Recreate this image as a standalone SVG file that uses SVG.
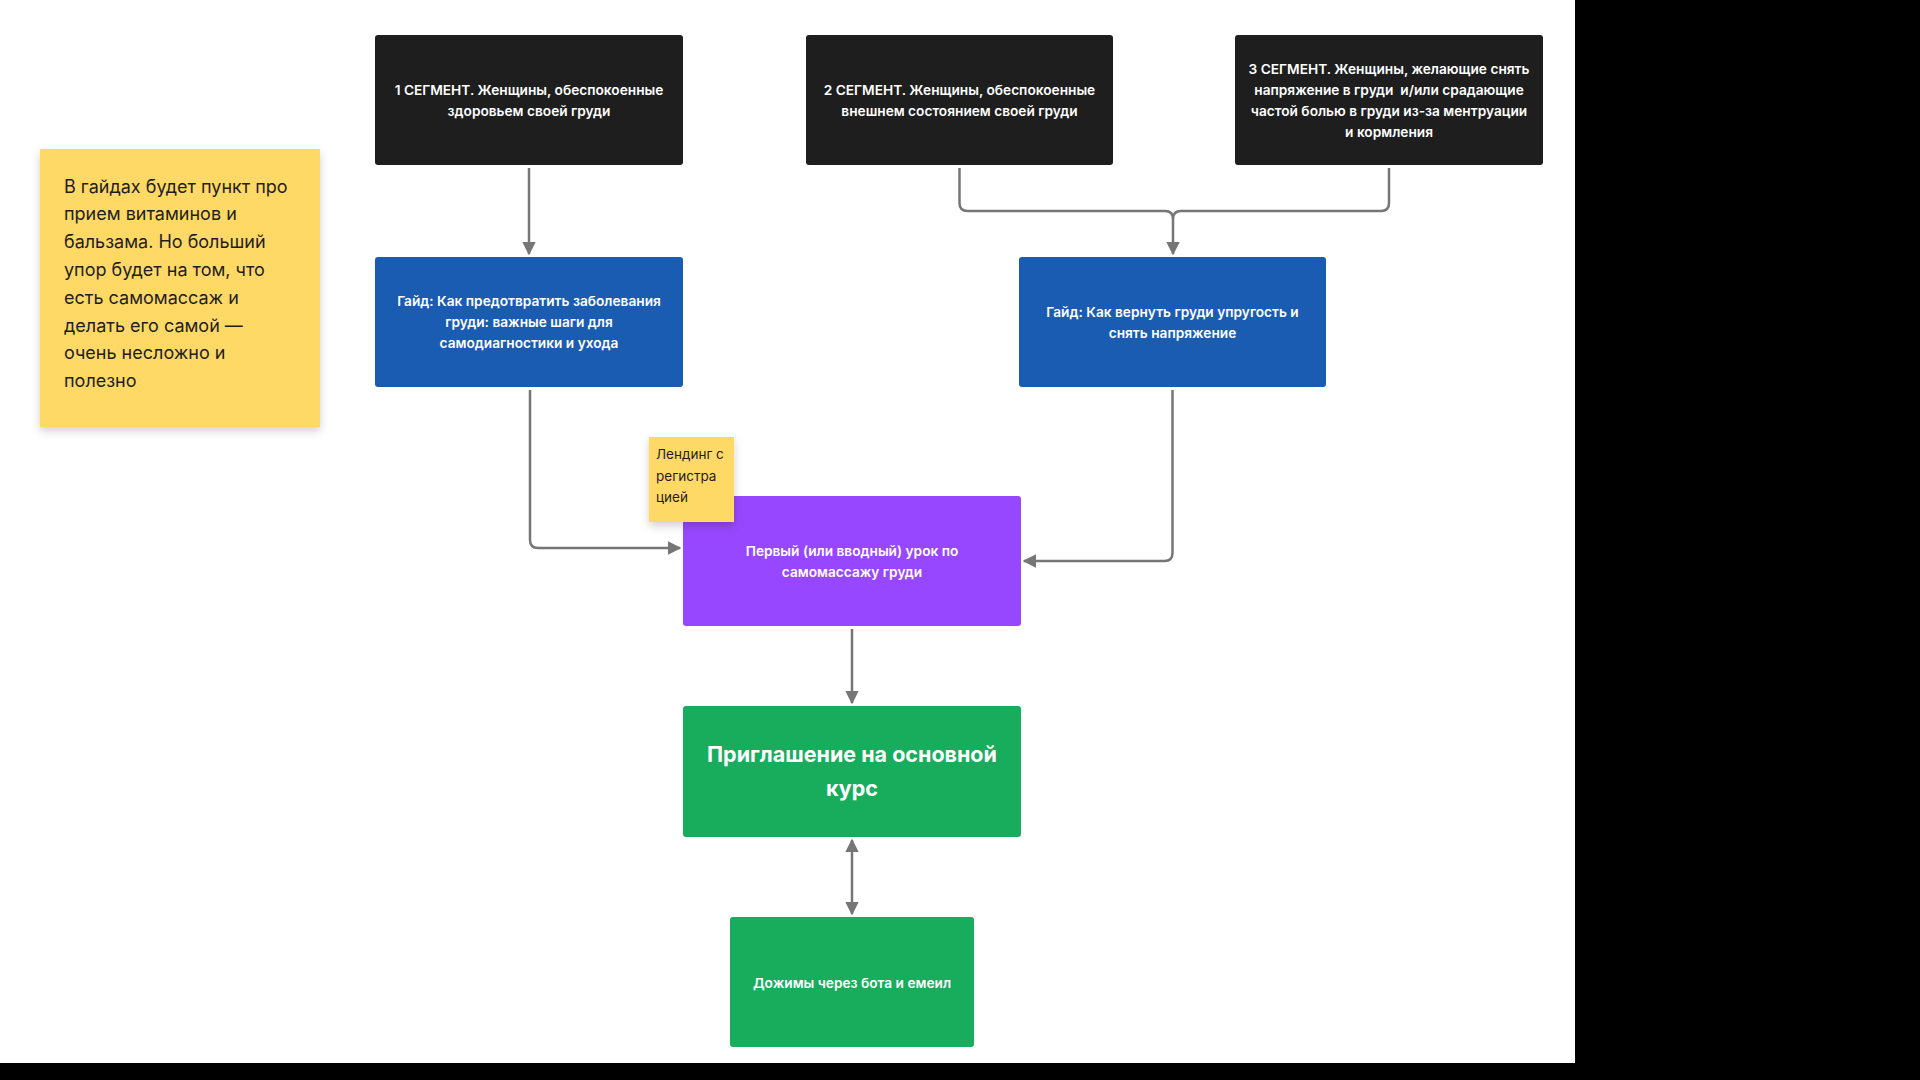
<svg xmlns="http://www.w3.org/2000/svg" width="1920" height="1080" viewBox="0 0 1920 1080">
<style>
.t{font-family:Inter,"Noto Sans","Liberation Sans",sans-serif;text-anchor:middle}
.w{fill:#ffffff;font-weight:600;font-size:13.7px}
.big{fill:#ffffff;font-weight:700;font-size:21.5px}
.note{font-family:Inter,"Noto Sans","Liberation Sans",sans-serif;fill:#1e1e1e;font-size:18px}
.small{font-family:Inter,"Noto Sans","Liberation Sans",sans-serif;fill:#1e1e1e;font-size:13.5px}
.dark{fill:#1e1e1e}
.blue{fill:#1a5cb1}
.purple{fill:#9747ff}
.green{fill:#17ad5c}
.yellow{fill:#ffd966}
.c{fill:none;stroke:#767676;stroke-width:2.5}
</style>
<defs>
<marker id="ah" viewBox="0 0 10 10" refX="9" refY="5" markerWidth="5.5" markerHeight="5.5" orient="auto-start-reverse">
<path d="M0,0 L10,5 L0,10 z" fill="#767676"/>
</marker>
<filter id="sh" x="-20%" y="-20%" width="140%" height="140%">
<feDropShadow dx="0" dy="4" stdDeviation="4" flood-color="#000" flood-opacity="0.18"/>
</filter>
</defs>
<rect x="0" y="0" width="1920" height="1080" fill="#ffffff"/>
<rect x="1575" y="0" width="345" height="1080" fill="#000000"/>
<rect x="0" y="1063" width="1920" height="17" fill="#000000"/>

<g id="connectors">
<path class="c" d="M529,168 V254" marker-end="url(#ah)"/>
<path class="c" d="M959.5,168 V203 Q959.5,211 967.5,211 H1165 Q1173,211 1173,219 V254" marker-end="url(#ah)"/>
<path class="c" d="M1389,168 V203 Q1389,211 1381,211 H1181 Q1173,211 1173,219"/>
<path class="c" d="M530,390 V540 Q530,548 538,548 H680" marker-end="url(#ah)"/>
<path class="c" d="M1172.5,390 V553 Q1172.5,561 1164.5,561 H1024" marker-end="url(#ah)"/>
<path class="c" d="M852,629 V703" marker-end="url(#ah)"/>
<path class="c" d="M852,840 V914" marker-start="url(#ah)" marker-end="url(#ah)"/>
</g>

<g id="note-main">
<rect class="yellow" x="40" y="149" width="280" height="278" filter="url(#sh)"/>
<text class="note" x="64" y="192.5">В гайдах будет пункт про</text>
<text class="note" x="64" y="220.3">прием витаминов и</text>
<text class="note" x="64" y="248.1">бальзама. Но больший</text>
<text class="note" x="64" y="275.9">упор будет на том, что</text>
<text class="note" x="64" y="303.7">есть самомассаж и</text>
<text class="note" x="64" y="331.5">делать его самой —</text>
<text class="note" x="64" y="359.3">очень несложно и</text>
<text class="note" x="64" y="387.1">полезно</text>
</g>

<g id="seg1">
<rect class="dark" x="375" y="35" width="308" height="130" rx="3"/>
<text class="t w" x="529" y="94.5">1 СЕГМЕНТ. Женщины, обеспокоенные</text>
<text class="t w" x="529" y="115.5">здоровьем своей груди</text>
</g>

<g id="seg2">
<rect class="dark" x="806" y="35" width="307" height="130" rx="3"/>
<text class="t w" x="959.5" y="94.5">2 СЕГМЕНТ. Женщины, обеспокоенные</text>
<text class="t w" x="959.5" y="115.5">внешнем состоянием своей груди</text>
</g>

<g id="seg3">
<rect class="dark" x="1235" y="35" width="308" height="130" rx="3"/>
<text class="t w" x="1389" y="73.5">3 СЕГМЕНТ. Женщины, желающие снять</text>
<text class="t w" x="1389" y="94.5" xml:space="preserve">напряжение в груди  и/или срадающие</text>
<text class="t w" x="1389" y="115.5">частой болью в груди из-за ментруации</text>
<text class="t w" x="1389" y="136.5">и кормления</text>
</g>

<g id="guide1">
<rect class="blue" x="375" y="257" width="308" height="130" rx="3"/>
<text class="t w" x="529" y="306">Гайд: Как предотвратить заболевания</text>
<text class="t w" x="529" y="327">груди: важные шаги для</text>
<text class="t w" x="529" y="348">самодиагностики и ухода</text>
</g>

<g id="guide2">
<rect class="blue" x="1019" y="257" width="307" height="130" rx="3"/>
<text class="t w" x="1172.5" y="316.5">Гайд: Как вернуть груди упругость и</text>
<text class="t w" x="1172.5" y="337.5">снять напряжение</text>
</g>

<g id="lesson">
<rect class="purple" x="683" y="496" width="338" height="130" rx="3"/>
<text class="t w" x="852" y="555.5">Первый (или вводный) урок по</text>
<text class="t w" x="852" y="576.5">самомассажу груди</text>
</g>

<g id="note-landing">
<rect class="yellow" x="649" y="437" width="85" height="85" filter="url(#sh)"/>
<text class="small" x="656" y="459">Лендинг с</text>
<text class="small" x="656" y="481">регистра</text>
<text class="small" x="656" y="502">цией</text>
</g>

<g id="invite">
<rect class="green" x="683" y="706" width="338" height="131" rx="3"/>
<text class="t big" x="852" y="762">Приглашение на основной</text>
<text class="t big" x="852" y="796">курс</text>
</g>

<g id="followup">
<rect class="green" x="730" y="917" width="244" height="130" rx="3"/>
<text class="t w" x="852" y="987.5">Дожимы через бота и емеил</text>
</g>
</svg>
